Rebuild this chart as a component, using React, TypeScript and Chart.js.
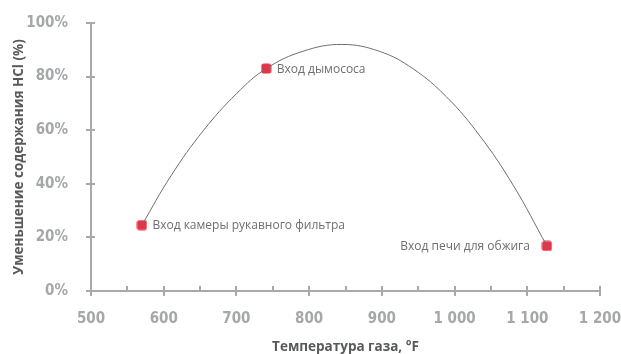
import React, { useEffect, useRef } from "react";
import { Chart, registerables } from "chart.js";

Chart.register(...registerables);

// Curve (temperature °F, HCl reduction %)
const curveTemps = [570, 610, 655, 700, 741, 792, 845, 897, 943, 989, 1035, 1081, 1127];
const curveHcl = [24.6, 43, 60, 73.6, 83, 89.5, 92, 89.4, 82.9, 72.4, 57.8, 39.3, 16.8];

const pointTemps = [570, 741, 1127];
const pointHcl = [24.6, 83, 16.8];
const pointLabels = ["Вход камеры рукавного фильтра", "Вход дымососа", "Вход печи для обжига"];
const labelSides = ["right", "right", "left"];

const xTickValues = [500, 600, 700, 800, 900, 1000, 1100, 1200];
const xTickLabels = ["500", "600", "700", "800", "900", "1 000", "1 100", "1 200"];
const xMinorTicks = [550, 650, 750, 850, 950, 1050, 1150];
const yTickValues = [0, 20, 40, 60, 80, 100];
const yTickLabels = ["0%", "20%", "40%", "60%", "80%", "100%"];

const xTitle = "Температура газа, °F";
const yTitle = "Уменьшение содержания HCl (%)";

const AXIS = "#a7a9ac";
const TICK_TEXT = "#a5a7aa";
const TITLE_TEXT = "#58595b";
const RED = "#e63347";
const TICK_FONT = "'Liberation Sans Narrow', 'DejaVu Sans Condensed', Roboto";

function makeMarker(): HTMLCanvasElement {
  const c = document.createElement("canvas");
  c.width = 11;
  c.height = 11;
  const g = c.getContext("2d")!;
  g.fillStyle = RED;
  g.beginPath();
  (g as any).roundRect(0.5, 0.5, 10, 10, 2.5);
  g.fill();
  return c;
}

const axisPlugin = {
  id: "customAxes",
  beforeDatasetsDraw(chart: any) {
    const { ctx, chartArea, scales } = chart;
    const x = scales.x;
    const y = scales.y;
    ctx.save();
    ctx.strokeStyle = AXIS;
    ctx.lineWidth = 2;
    ctx.beginPath();
    ctx.moveTo(chartArea.left, chartArea.top);
    ctx.lineTo(chartArea.left, chartArea.bottom);
    ctx.lineTo(chartArea.right, chartArea.bottom);
    ctx.stroke();
    ctx.beginPath();
    yTickValues.forEach((v) => {
      const py = Math.round(y.getPixelForValue(v));
      ctx.moveTo(chartArea.left - 5, py);
      ctx.lineTo(chartArea.left + 4, py);
    });
    xTickValues.forEach((v) => {
      const px = Math.round(x.getPixelForValue(v));
      ctx.moveTo(px, chartArea.bottom - 5);
      ctx.lineTo(px, chartArea.bottom + 5);
    });
    xMinorTicks.forEach((v) => {
      const px = Math.round(x.getPixelForValue(v));
      ctx.moveTo(px, chartArea.bottom - 5);
      ctx.lineTo(px, chartArea.bottom);
    });
    ctx.stroke();
    ctx.restore();
  },
  afterDatasetsDraw(chart: any) {
    const { ctx, scales } = chart;
    ctx.save();
    ctx.font = "12px 'Open Sans'";
    ctx.fillStyle = "#6d6e71";
    ctx.textBaseline = "middle";
    pointTemps.forEach((t, i) => {
      const px = scales.x.getPixelForValue(t);
      const py = scales.y.getPixelForValue(pointHcl[i]);
      if (labelSides[i] === "right") {
        ctx.textAlign = "left";
        ctx.fillText(pointLabels[i], px + 10.5, py + 1);
      } else {
        ctx.textAlign = "right";
        ctx.fillText(pointLabels[i], px - 17, py + 1);
      }
    });
    ctx.restore();
  },
};

export default function App() {
  const ref = useRef<HTMLCanvasElement | null>(null);
  useEffect(() => {
    if (!ref.current) return;
    const marker = makeMarker();
    const chart = new Chart(ref.current, {
      type: "line",
      data: {
        datasets: [
          {
            data: curveTemps.map((t, i) => ({ x: t, y: curveHcl[i] })),
            borderColor: "#6e6e6e",
            borderWidth: 1,
            pointRadius: 0,
            tension: 0.4,
            fill: false,
          },
          {
            data: pointTemps.map((t, i) => ({ x: t, y: pointHcl[i] })),
            showLine: false,
            pointStyle: marker,
            pointRadius: 6,
          },
        ],
      },
      plugins: [axisPlugin],
      options: {
        animation: false,
        responsive: true,
        maintainAspectRatio: false,
        layout: { padding: { top: 23, right: 21, left: 0, bottom: 0 } },
        plugins: { legend: { display: false }, tooltip: { enabled: false } },
        scales: {
          x: {
            type: "linear",
            min: 500,
            max: 1200,
            afterFit: (s: any) => {
              s.height = 63;
              s.paddingLeft = 0;
              s.paddingRight = 0;
            },
            afterBuildTicks: (s: any) => {
              s.ticks = xTickValues.map((v) => ({ value: v }));
            },
            grid: { display: false },
            border: { display: false },
            ticks: {
              padding: 11,
              color: TICK_TEXT,
              font: { family: TICK_FONT, weight: "bold", size: 15 },
              maxRotation: 0,
              callback: (v: any) => xTickLabels[xTickValues.indexOf(Number(v))] ?? "",
            },
            title: {
              display: true,
              text: xTitle,
              color: TITLE_TEXT,
              font: { family: "'Open Sans'", weight: "bold", size: 13.5, lineHeight: 1 },
              padding: { top: 0, bottom: 0 },
            },
          },
          y: {
            min: 0,
            max: 100,
            afterFit: (s: any) => {
              s.width = 91;
              s.paddingTop = 0;
              s.paddingBottom = 0;
            },
            afterBuildTicks: (s: any) => {
              s.ticks = yTickValues.map((v) => ({ value: v }));
            },
            grid: { display: false },
            border: { display: false },
            ticks: {
              padding: 15,
              color: TICK_TEXT,
              font: { family: TICK_FONT, weight: "bold", size: 15 },
              callback: (v: any) => yTickLabels[yTickValues.indexOf(Number(v))] ?? "",
            },
            title: {
              display: true,
              text: yTitle,
              color: TITLE_TEXT,
              font: { family: "'Open Sans'", weight: "bold", size: 13.5, lineHeight: 1 },
              padding: { top: 12, bottom: 0 },
            },
          },
        },
      },
    } as any);
    return () => chart.destroy();
  }, []);
  return (
    <div style={{ position: "fixed", left: 0, top: 0, width: 621, height: 354 }}>
      <canvas ref={ref} />
    </div>
  );
}
